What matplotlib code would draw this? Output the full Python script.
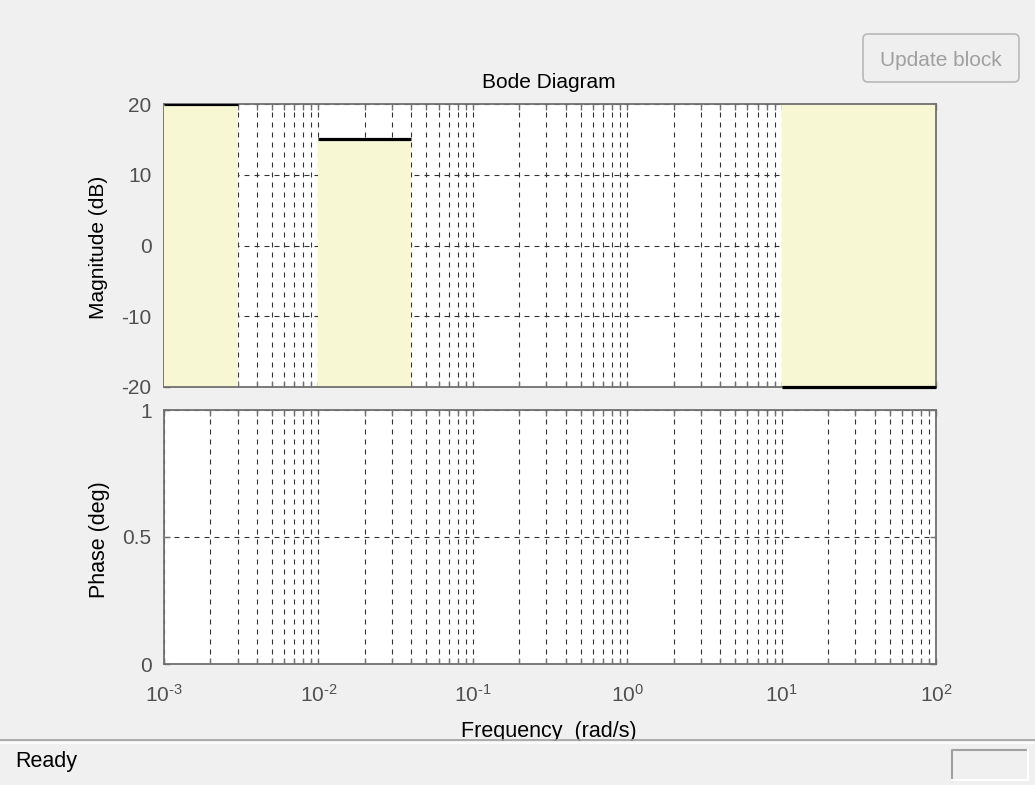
import matplotlib
matplotlib.use("Agg")
import math
import matplotlib.pyplot as plt
import matplotlib.ticker as mticker
from matplotlib.patches import FancyBboxPatch, Rectangle
from matplotlib.lines import Line2D
from matplotlib.transforms import IdentityTransform

# ---------------- data ----------------
freq_lo = [0.001, 0.01, 10]          # requirement segment start (rad/s)
freq_hi = [0.003, 0.04, 100]         # requirement segment end (rad/s)
limit_db = [20, 15, -20]             # gain limit (dB)
limit_type = ["lower", "lower", "upper"]
mag_yticks = [-20, -10, 0, 10, 20]
phase_yticks = [0, 0.5, 1]
phase_yticklabels = ["0", "0.5", "1"]
freq_range = [1e-3, 1e2]

title_text = "Bode Diagram"
mag_label = "Magnitude (dB)"
phase_label = "Phase (deg)"
freq_label = "Frequency  (rad/s)"
status_text = "Ready"
button_text = "Update block"

# ---------------- style ----------------
plt.rcParams["font.family"] = ["Liberation Sans", "DejaVu Sans"]
plt.rcParams["axes.unicode_minus"] = False
plt.rcParams["mathtext.fontset"] = "custom"
plt.rcParams["mathtext.rm"] = "Liberation Sans"
plt.rcParams["mathtext.it"] = "Liberation Sans"
plt.rcParams["lines.scale_dashes"] = False

W, H = 1035, 785
BG = "#f0f0f0"
SPINE = "#707070"
TICKLAB = "#505050"
GRID = "#333333"
PATCH = "#f7f7d3"
FS = 15

fig = plt.figure(figsize=(W / 100, H / 100), dpi=100, facecolor=BG)


def fx(px):
    return px / W


def fy(py):
    return 1 - py / H


def pow10_label(v, pos):
    e = int(round(math.log10(v)))
    return r"$\mathdefault{10^{\text{%d}}}$" % e


L, R = 164, 936
ax1 = fig.add_axes([fx(L), fy(387), fx(R - L), (387 - 104) / H])
ax2 = fig.add_axes([fx(L), fy(664), fx(R - L), (664 - 410) / H])

for ax in (ax1, ax2):
    ax.set_xscale("log")
    ax.set_xlim(freq_range)
    ax.set_facecolor("white")
    ax.set_axisbelow(True)
    ax.xaxis.set_major_locator(mticker.LogLocator(base=10, numticks=20))
    ax.xaxis.set_major_formatter(mticker.FuncFormatter(pow10_label))
    ax.xaxis.set_minor_locator(mticker.LogLocator(base=10, subs=range(2, 10), numticks=20))
    ax.xaxis.set_minor_formatter(mticker.NullFormatter())
    ax.grid(True, which="both", axis="x", color=GRID, lw=0.8, linestyle=(0, (3.6, 3.6)))
    ax.grid(True, which="major", axis="y", color=GRID, lw=0.8, linestyle=(0, (3.6, 3.6)))
    for s in ax.spines.values():
        s.set_color(SPINE)
        s.set_linewidth(1.3)
    ax.tick_params(which="both", direction="in", top=True, right=True,
                   color=SPINE, length=4, width=1, labelsize=FS,
                   labelcolor=TICKLAB)
    ax.tick_params(axis="y", pad=9)
    ax.tick_params(axis="x", pad=14)

# magnitude axes
ax1.set_ylim(mag_yticks[0], mag_yticks[-1])
ax1.set_yticks(mag_yticks)
ax1.set_yticklabels([str(v) for v in mag_yticks])
ax1.tick_params(axis="x", labelbottom=False)
ax1.spines["left"].set_zorder(0.9)

ymin, ymax = ax1.get_ylim()
for lo, hi, lim, kind in zip(freq_lo, freq_hi, limit_db, limit_type):
    if kind == "lower":
        ax1.fill_between([lo, hi], [ymin, ymin], [lim, lim], color=PATCH, lw=0, zorder=1)
    else:
        ax1.fill_between([lo, hi], [lim, lim], [ymax, ymax], color=PATCH, lw=0, zorder=1)
    ax1.plot([lo, hi], [lim, lim], color="black", lw=2.3, solid_capstyle="butt", zorder=3,
             clip_on=(kind == "lower"))

# phase axes
ax2.set_ylim(phase_yticks[0], phase_yticks[-1])
ax2.set_yticks(phase_yticks)
ax2.set_yticklabels(phase_yticklabels)

# labels
fig.text(fx(549), fy(88), title_text, ha="center", va="baseline", fontsize=FS, color="black")
fig.text(fx(99), fy(247), mag_label, ha="center", va="center", rotation=90, fontsize=FS, color="black")
fig.text(fx(99), fy(540), phase_label, ha="center", va="center", rotation=90, fontsize=FS + 0.5, color="black")
fig.text(fx(549), fy(737), freq_label, ha="center", va="baseline", fontsize=FS + 0.5, color="black", zorder=3)

# status bar
fig.add_artist(Rectangle((0, 0), 1, fy(741), transform=fig.transFigure, facecolor=BG, edgecolor="none", zorder=5))
fig.add_artist(Line2D([0, 1], [fy(740), fy(740)], transform=fig.transFigure, color="#a0a0a0", lw=1.2, zorder=6))
fig.add_artist(Line2D([0, 1], [fy(742.5), fy(742.5)], transform=fig.transFigure, color="white", lw=1.2, zorder=6))
fig.text(fx(15), fy(767), status_text, ha="left", va="baseline", fontsize=FS + 0.5, color="black", zorder=7)

# sunken box in status bar
bx0, bx1, by0, by1 = 952, 1028, 750, 780
fig.add_artist(Line2D([fx(bx0), fx(bx0), fx(bx1)], [fy(by1), fy(by0), fy(by0)], transform=fig.transFigure,
                      color="#a0a0a0", lw=1.5, zorder=7))
fig.add_artist(Line2D([fx(bx0), fx(bx1), fx(bx1)], [fy(by1), fy(by1), fy(by0)], transform=fig.transFigure,
                      color="white", lw=1.5, zorder=7))

# disabled button
btn = FancyBboxPatch((863, H - 82), 1019 - 863, 82 - 34, boxstyle="round,pad=0,rounding_size=5",
                     transform=IdentityTransform(), facecolor="#efefef", edgecolor="#b8b8b8", lw=1.2, zorder=4)
fig.add_artist(btn)
fig.text(fx(941), fy(60), button_text, ha="center", va="center", fontsize=FS, color="#a0a0a0", zorder=5)

fig.savefig("out.png", dpi=100, facecolor=BG)
